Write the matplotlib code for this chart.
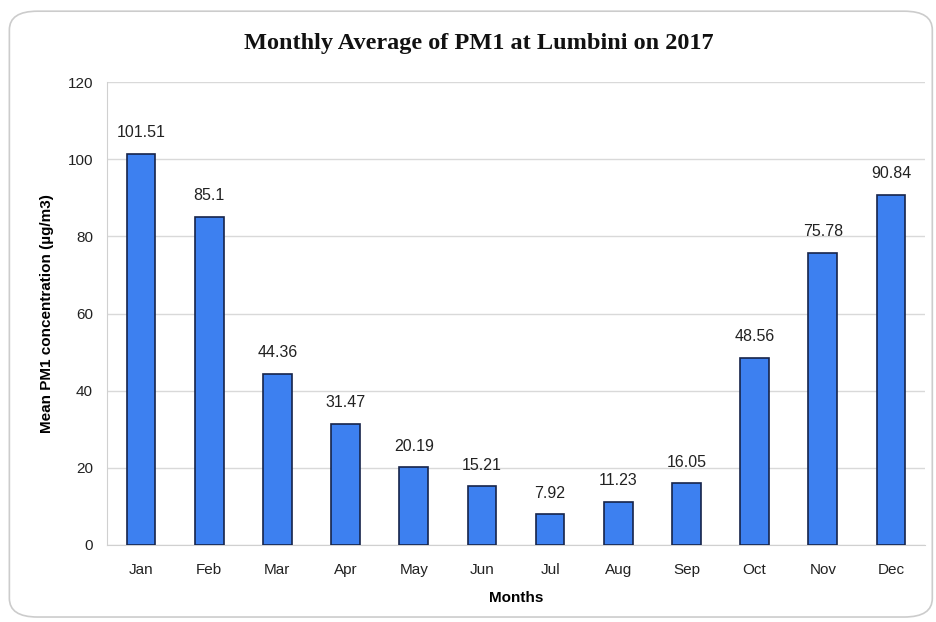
import matplotlib
matplotlib.use("Agg")
import matplotlib.pyplot as plt
from matplotlib.patches import FancyBboxPatch

months = ["Jan", "Feb", "Mar", "Apr", "May", "Jun", "Jul", "Aug", "Sep", "Oct", "Nov", "Dec"]
pm1 = [101.51, 85.1, 44.36, 31.47, 20.19, 15.21, 7.92, 11.23, 16.05, 48.56, 75.78, 90.84]
labels = ["101.51", "85.1", "44.36", "31.47", "20.19", "15.21", "7.92", "11.23", "16.05", "48.56", "75.78", "90.84"]

fig = plt.figure(figsize=(9.37, 6.22), dpi=100)
fig.patch.set_facecolor("white")
border = FancyBboxPatch((0.010, 0.008), 0.985, 0.974, boxstyle="round,pad=0,rounding_size=0.03",
                        transform=fig.transFigure, facecolor="none", edgecolor="#cccccc",
                        linewidth=1.2, zorder=-1)
fig.patches.append(border)

ax = fig.add_axes([0.1142, 0.1238, 0.873, 0.744])
ax.set_facecolor("none")
x = range(len(months))
ax.bar(x, pm1, width=0.42, color="#3d80f0", edgecolor="#16244a", linewidth=1.2, zorder=3)
for xi, v, lab in zip(x, pm1, labels):
    ax.text(xi, v + 3.5, lab, ha="center", va="bottom", fontsize=11.5, family="Liberation Sans", color="#222222")

ax.set_xlim(-0.5, 11.5)
ax.set_ylim(0, 120)
ax.set_yticks(range(0, 121, 20))
ax.set_xticks(list(x))
ax.set_xticklabels(months)
ax.grid(axis="y", color="#d9d9d9", linewidth=1, zorder=0)
for s in ["top", "right"]:
    ax.spines[s].set_visible(False)
for s in ["left", "bottom"]:
    ax.spines[s].set_color("#d0d0d0")
ax.tick_params(axis="y", length=0, labelsize=11, colors="#222222", pad=10)
ax.tick_params(axis="x", length=0, labelsize=11, colors="#222222", pad=13)
for t in ax.get_xticklabels() + ax.get_yticklabels():
    t.set_family("Liberation Sans")

ax.set_ylabel("Mean PM1 concentration (µg/m3)", fontsize=11, fontweight="bold", family="Liberation Sans", labelpad=10)
ax.set_xlabel("Months", fontsize=11, fontweight="bold", family="Liberation Sans", labelpad=10)
fig.text(0.511, 0.930, "Monthly Average of PM1 at Lumbini on 2017", ha="center", va="center",
         fontsize=17.5, fontweight="bold", family="Liberation Serif", color="#111111")

fig.savefig("out.png", dpi=100)
